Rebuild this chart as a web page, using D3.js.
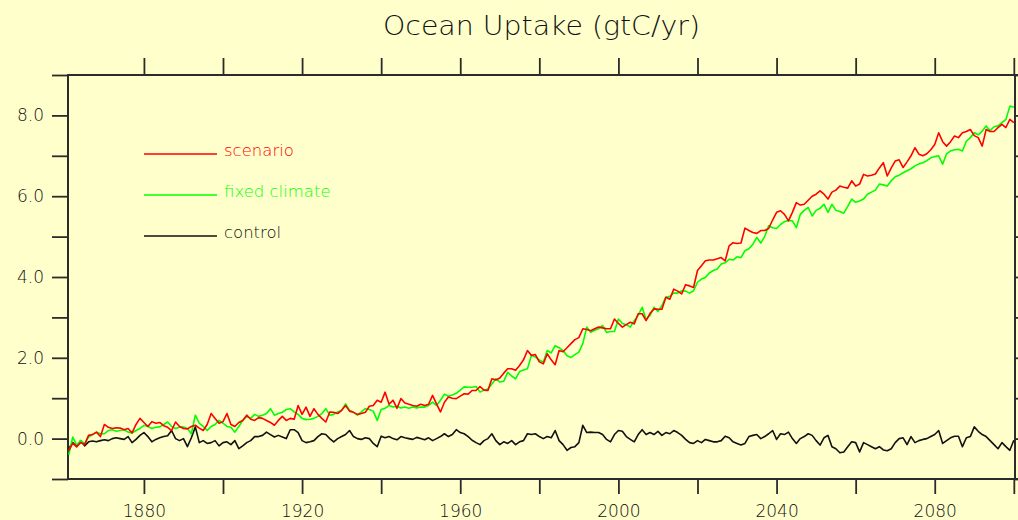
<!DOCTYPE html>
<html>
<head>
<meta charset="utf-8">
<script src="https://cdn.jsdelivr.net/npm/d3@7"></script>
<style>
  html, body { margin: 0; padding: 0; background: #ffffcc; }
  svg { display: block; }
  text { font-family: "DejaVu Sans", "Liberation Sans", sans-serif; font-weight: 200; }
</style>
</head>
<body>
<div id="canvas"></div>
<script>
// annual values, first year 1861, one value per year up to 2100
const startYear = 1861;

const scenario = [
    -0.30, -0.12, -0.20, -0.10, -0.15, 0.08, 0.10, 0.16, 0.05, 0.35,
    0.28, 0.25, 0.27, 0.26, 0.22, 0.25, 0.14, 0.35, 0.50, 0.40,
    0.30, 0.42, 0.38, 0.40, 0.32, 0.28, 0.20, 0.41, 0.30, 0.25,
    0.24, 0.30, 0.33, 0.26, 0.20, 0.35, 0.62, 0.50, 0.38, 0.42,
    0.62, 0.35, 0.30, 0.40, 0.45, 0.58, 0.48, 0.45, 0.52, 0.50,
    0.45, 0.40, 0.33, 0.45, 0.55, 0.45, 0.50, 0.48, 0.82, 0.60,
    0.78, 0.55, 0.74, 0.60, 0.50, 0.41, 0.66, 0.65, 0.62, 0.70,
    0.82, 0.68, 0.65, 0.60, 0.62, 0.65, 0.80, 0.82, 0.95, 0.90,
    1.15, 0.85, 0.95, 0.75, 0.99, 0.88, 0.85, 0.82, 0.80, 0.85,
    0.82, 0.85, 1.07, 0.86, 0.66, 0.90, 1.03, 1.00, 0.99, 1.05,
    1.11, 1.10, 1.19, 1.19, 1.29, 1.20, 1.19, 1.48, 1.45, 1.50,
    1.62, 1.73, 1.73, 1.69, 1.81, 1.95, 2.18, 2.06, 2.08, 1.90,
    1.85, 2.10, 1.95, 1.83, 2.18, 2.15, 2.25, 2.35, 2.45, 2.50,
    2.72, 2.70, 2.67, 2.72, 2.76, 2.74, 2.72, 2.72, 2.96, 2.85,
    2.76, 2.82, 2.88, 2.84, 3.09, 3.09, 2.92, 3.10, 3.21, 3.20,
    3.20, 3.50, 3.45, 3.70, 3.65, 3.58, 3.81, 3.78, 3.74, 4.16,
    4.28, 4.40, 4.42, 4.42, 4.45, 4.48, 4.40, 4.77, 4.85, 4.83,
    4.84, 5.21, 5.15, 5.10, 5.08, 5.15, 5.15, 5.20, 5.41, 5.60,
    5.64, 5.55, 5.39, 5.60, 5.84, 5.78, 5.80, 5.90, 6.00, 6.05,
    6.13, 6.05, 5.93, 6.10, 6.15, 6.25, 6.22, 6.20, 6.38, 6.25,
    6.30, 6.54, 6.50, 6.52, 6.55, 6.70, 6.83, 6.50, 6.70, 6.87,
    6.90, 6.71, 6.85, 7.00, 7.20, 7.04, 7.00, 7.05, 7.15, 7.28,
    7.57, 7.35, 7.24, 7.35, 7.49, 7.45, 7.57, 7.60, 7.65, 7.50,
    7.45, 7.24, 7.65, 7.60, 7.60, 7.70, 7.78, 7.70, 7.90, 7.82
];

const fixedClimate = [
    -0.40, 0.04, -0.16, -0.05, -0.12, 0.04, 0.10, 0.16, 0.12, 0.12,
    0.20, 0.22, 0.18, 0.20, 0.22, 0.16, 0.14, 0.20, 0.25, 0.33,
    0.30, 0.25, 0.28, 0.29, 0.35, 0.41, 0.30, 0.25, 0.28, 0.29,
    0.25, 0.12, 0.58, 0.38, 0.30, 0.20, 0.30, 0.35, 0.45, 0.38,
    0.30, 0.28, 0.16, 0.30, 0.45, 0.55, 0.50, 0.60, 0.55, 0.58,
    0.62, 0.74, 0.58, 0.62, 0.65, 0.72, 0.74, 0.66, 0.60, 0.50,
    0.47, 0.48, 0.50, 0.55, 0.62, 0.74, 0.58, 0.60, 0.66, 0.70,
    0.86, 0.70, 0.65, 0.58, 0.66, 0.74, 0.72, 0.68, 0.45, 0.72,
    0.75, 0.82, 0.78, 0.80, 0.76, 0.78, 0.75, 0.78, 0.76, 0.78,
    0.78, 0.82, 0.90, 0.82, 0.95, 1.10, 1.05, 1.08, 1.12, 1.20,
    1.28, 1.27, 1.27, 1.29, 1.15, 1.20, 1.23, 1.35, 1.48, 1.40,
    1.42, 1.64, 1.55, 1.48, 1.66, 1.70, 1.73, 2.06, 2.02, 1.95,
    1.89, 2.18, 2.12, 2.30, 2.25, 2.18, 2.05, 2.01, 2.08, 2.14,
    2.35, 2.76, 2.63, 2.68, 2.72, 2.80, 2.63, 2.65, 2.65, 2.96,
    2.85, 2.82, 2.76, 2.92, 3.05, 3.25, 2.95, 3.05, 3.25, 3.15,
    3.29, 3.50, 3.52, 3.60, 3.60, 3.66, 3.65, 3.60, 3.66, 3.87,
    3.95, 3.99, 4.10, 4.16, 4.20, 4.32, 4.35, 4.44, 4.42, 4.50,
    4.48, 4.65, 4.70, 4.81, 4.98, 4.84, 5.00, 5.27, 5.22, 5.20,
    5.30, 5.37, 5.40, 5.39, 5.22, 5.55, 5.65, 5.72, 5.51, 5.65,
    5.70, 5.80, 5.60, 5.80, 5.65, 5.62, 5.58, 5.75, 5.93, 5.85,
    5.88, 5.93, 6.05, 6.10, 6.15, 6.30, 6.28, 6.25, 6.38, 6.48,
    6.52, 6.58, 6.63, 6.68, 6.75, 6.80, 6.83, 6.88, 6.95, 6.98,
    7.00, 6.79, 7.05, 7.12, 7.15, 7.16, 7.12, 7.36, 7.45, 7.57,
    7.52, 7.61, 7.74, 7.62, 7.72, 7.74, 7.82, 7.90, 8.23, 8.20
];

const control = [
    -0.24, -0.10, -0.20, -0.05, -0.18, -0.08, -0.06, -0.08, -0.05, -0.03,
    -0.05, 0.00, 0.02, 0.00, -0.02, 0.05, -0.10, -0.02, 0.08, 0.15,
    0.05, -0.08, -0.02, 0.02, 0.05, 0.07, 0.20, 0.00, -0.05, 0.00,
    -0.20, 0.02, 0.29, -0.10, -0.05, -0.12, -0.10, -0.05, -0.18, -0.10,
    -0.08, -0.15, -0.05, -0.25, -0.18, -0.10, -0.05, 0.05, 0.05, 0.08,
    0.16, 0.10, 0.04, 0.08, 0.04, 0.00, 0.22, 0.22, 0.15, -0.05,
    -0.10, -0.08, -0.05, 0.05, 0.12, 0.10, 0.00, -0.08, 0.00, 0.05,
    0.10, 0.20, 0.05, 0.00, -0.02, 0.02, 0.00, -0.12, -0.20, 0.06,
    0.02, 0.05, 0.00, -0.03, 0.05, 0.02, 0.00, -0.02, 0.03, 0.00,
    -0.03, 0.02, -0.05, 0.00, 0.05, 0.12, 0.05, 0.10, 0.22, 0.15,
    0.12, 0.05, -0.04, -0.10, -0.15, -0.05, 0.00, 0.12, -0.05, -0.15,
    -0.08, -0.12, -0.05, -0.15, -0.08, -0.05, 0.12, 0.10, 0.12, 0.05,
    0.00, 0.05, 0.02, 0.20, -0.05, -0.15, -0.29, -0.22, -0.20, -0.10,
    0.33, 0.15, 0.16, 0.15, 0.15, 0.10, -0.02, -0.08, 0.10, 0.20,
    0.18, 0.05, -0.02, -0.08, 0.10, 0.22, 0.10, 0.15, 0.10, 0.18,
    0.08, 0.15, 0.12, 0.20, 0.15, 0.08, -0.02, -0.10, -0.12, -0.05,
    -0.10, -0.02, -0.05, -0.08, -0.08, -0.05, 0.06, 0.02, -0.08, -0.12,
    -0.16, -0.12, 0.05, 0.08, 0.10, 0.00, 0.05, 0.12, 0.20, -0.02,
    0.12, 0.10, 0.16, 0.00, -0.12, 0.00, 0.05, 0.12, 0.08, -0.05,
    -0.16, 0.02, 0.08, -0.20, -0.25, -0.35, -0.33, -0.20, -0.08, -0.10,
    -0.33, -0.10, -0.15, -0.20, -0.25, -0.20, -0.28, -0.30, -0.25, -0.10,
    0.00, 0.02, -0.15, 0.05, -0.10, -0.05, -0.02, 0.00, 0.05, 0.10,
    0.20, -0.12, -0.05, 0.02, 0.06, 0.06, -0.20, 0.02, 0.05, 0.29,
    0.18, 0.10, 0.05, -0.05, -0.15, -0.25, -0.10, -0.20, -0.29, -0.04
];

const seriesNames = ["scenario", "fixed climate", "control"];
const seriesColors = ["#ff0000", "#00ff00", "#111111"];
const xTickYears = [1880, 1900, 1920, 1940, 1960, 1980, 2000, 2020, 2040, 2060, 2080, 2100];
const xLabelYears = [1880, 1920, 1960, 2000, 2040, 2080];
const yTickValues = [-1, 0, 1, 2, 3, 4, 5, 6, 7, 8, 9];
const yLabelValues = [0, 2, 4, 6, 8];
const chartTitle = "Ocean Uptake (gtC/yr)";

const width = 1018, height = 520;
const plot = {left: 68, right: 1015, top: 75, bottom: 479};
const axisColor = "#2b2b2b";

const svg = d3.select("#canvas").append("svg")
    .attr("width", width)
    .attr("height", height);

svg.append("rect")
    .attr("width", width)
    .attr("height", height)
    .attr("fill", "#ffffcc");

let x = d3.scaleLinear()
    .domain([1860.8, 2100.3])
    .range([plot.left, plot.right]);

let y = d3.scaleLinear()
    .domain([-1, 9])
    .range([plot.bottom, plot.top]);

const toPoints = (values) => values.map((v, i) => ({year: startYear + i, value: v}));
const allSeries = [scenario, fixedClimate, control].map(toPoints);

// axes
const styleAxis = (g) => {
    g.select(".domain").remove();
    g.selectAll(".tick line").attr("stroke", axisColor).attr("stroke-width", 1.8);
    g.selectAll(".tick text")
        .attr("fill", "#111")
        .style("font-size", "17px")
        .style("font-family", "'DejaVu Sans', 'Liberation Sans', sans-serif")
        .style("font-weight", 200);
};

svg.append("g")
    .attr("transform", "translate(" + plot.left + ",0)")
    .call(d3.axisLeft(y)
        .tickValues(yTickValues)
        .tickSize(16)
        .tickPadding(8)
        .tickFormat(d => yLabelValues.includes(d) ? d3.format(".1f")(d) : ""))
    .call(styleAxis);

svg.append("g")
    .attr("transform", "translate(" + plot.right + ",0)")
    .call(d3.axisRight(y)
        .tickValues(yTickValues)
        .tickSize(12)
        .tickFormat(""))
    .call(styleAxis);

svg.append("g")
    .attr("transform", "translate(0," + plot.top + ")")
    .call(d3.axisTop(x)
        .tickValues(xTickYears)
        .tickSize(17)
        .tickFormat(""))
    .call(styleAxis);

svg.append("g")
    .attr("transform", "translate(0," + plot.bottom + ")")
    .call(d3.axisBottom(x)
        .tickValues(xTickYears)
        .tickSize(15)
        .tickPadding(11)
        .tickFormat(d => xLabelYears.includes(d) ? d : ""))
    .call(styleAxis);

// frame; top and bottom lines run on to the right edge
svg.append("rect")
    .attr("x", plot.left)
    .attr("y", plot.top)
    .attr("width", plot.right - plot.left)
    .attr("height", plot.bottom - plot.top)
    .attr("fill", "none")
    .attr("stroke", axisColor)
    .attr("stroke-width", 2);

[plot.top, plot.bottom].forEach(yy => {
    svg.append("line")
        .attr("x1", plot.right).attr("x2", width)
        .attr("y1", yy).attr("y2", yy)
        .attr("stroke", axisColor)
        .attr("stroke-width", 2);
});

// title
svg.append("text")
    .attr("x", (plot.left + plot.right) / 2)
    .attr("y", 35)
    .attr("text-anchor", "middle")
    .attr("textLength", 317)
    .attr("lengthAdjust", "spacingAndGlyphs")
    .attr("fill", "#111")
    .style("font-size", "26px")
    .text(chartTitle);

// series
let line = d3.line()
    .x(d => x(d.year))
    .y(d => y(d.value));

// draw control first, scenario last on top
[2, 1, 0].forEach(i => {
    svg.append("path")
        .datum(allSeries[i])
        .attr("fill", "none")
        .attr("stroke", seriesColors[i])
        .attr("stroke-width", 1.6)
        .attr("stroke-linejoin", "round")
        .attr("d", line);
});

// legend
const legend = svg.append("g");
seriesNames.forEach((name, i) => {
    let ly = 154 + i * 41;
    legend.append("line")
        .attr("x1", 144).attr("x2", 217)
        .attr("y1", ly).attr("y2", ly)
        .attr("stroke", seriesColors[i])
        .attr("stroke-width", 1.5);
    legend.append("text")
        .attr("x", 224)
        .attr("y", ly + 2)
        .attr("fill", seriesColors[i])
        .style("font-size", "16.5px")
        .text(name);
});
</script>
</body>
</html>
